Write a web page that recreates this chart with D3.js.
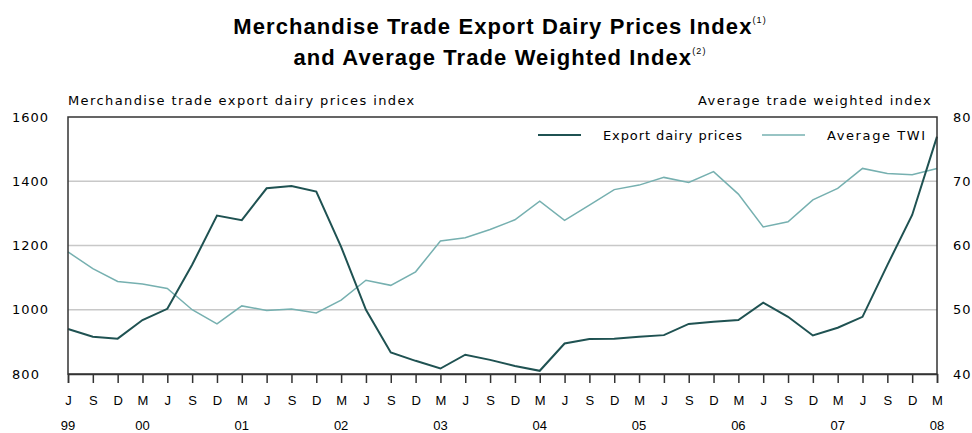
<!DOCTYPE html>
<html>
<head>
<meta charset="utf-8">
<script src="https://cdn.jsdelivr.net/npm/d3@7/dist/d3.min.js"></script>
<style>
  body { margin: 0; background: #fff; }
  text { font-family: "DejaVu Sans", sans-serif; fill: #000; }
  .title { font-family: "Liberation Sans", Arial, sans-serif; font-weight: bold; font-size: 22px; letter-spacing: 1.1px; }
  .grid line { stroke: #c8c8c8; stroke-width: 1.5px; }
</style>
</head>
<body>
<div id="chart"></div>
<script>
// quarterly, Jun 1999 .. Mar 2008
const monthLabels = ["J","S","D","M","J","S","D","M","J","S","D","M","J","S","D","M","J","S",
                     "D","M","J","S","D","M","J","S","D","M","J","S","D","M","J","S","D","M"];
const yearLabels = {0:"99", 3:"00", 7:"01", 11:"02", 15:"03", 19:"04", 23:"05", 27:"06", 31:"07", 35:"08"};
const dairyPrices = [940, 916, 910, 968, 1003, 1140, 1293, 1279, 1378, 1385, 1368, 1196,
                     1000, 867, 841, 817, 860, 844, 825, 810, 895, 909, 910, 916,
                     921, 956, 963, 968, 1022, 978, 920, 944, 978, 1139, 1295, 1539];
const avgTWI = [59.0, 56.4, 54.4, 54.0, 53.3, 50.0, 47.8, 50.6, 49.9, 50.1, 49.5, 51.5,
                54.6, 53.8, 55.9, 60.7, 61.2, 62.5, 64.0, 66.9, 63.9, 66.3, 68.7, 69.4,
                70.6, 69.8, 71.5, 68.0, 62.9, 63.7, 67.1, 68.9, 72.0, 71.2, 71.0, 72.0];
const leftTicks = [800, 1000, 1200, 1400, 1600];
const rightTicks = [40, 50, 60, 70, 80];

const W = 972, H = 433;
const m = {left: 68, right: 937, top: 117, bottom: 374};

const svg = d3.select("#chart").append("svg").attr("width", W).attr("height", H);

const x = d3.scaleLinear().domain([0, monthLabels.length - 1]).range([m.left, m.right]);
const yL = d3.scaleLinear().domain([800, 1600]).range([m.bottom, m.top]);
const yR = d3.scaleLinear().domain([40, 80]).range([m.bottom, m.top]);

// title
const title = svg.append("text").attr("class", "title").attr("text-anchor", "middle").attr("x", 500).attr("y", 34);
title.append("tspan").text("Merchandise Trade Export Dairy Prices Index");
title.append("tspan").attr("dy", -11).style("font-size", "9px").style("font-weight", "normal").text("(1)");
const title2 = svg.append("text").attr("class", "title").attr("text-anchor", "middle").attr("x", 500).attr("y", 65);
title2.append("tspan").text("and Average Trade Weighted Index");
title2.append("tspan").attr("dy", -11).style("font-size", "9px").style("font-weight", "normal").text("(2)");

// axis titles
svg.append("text").attr("x", 68).attr("y", 105).style("font-size", "13px").style("letter-spacing", "1.4px")
  .text("Merchandise trade export dairy prices index");
svg.append("text").attr("x", 932).attr("y", 105).attr("text-anchor", "end").style("font-size", "13px")
  .style("letter-spacing", "1.35px")
  .text("Average trade weighted index");

// grid
svg.append("g").attr("class", "grid").selectAll("line")
  .data(leftTicks.filter(d => d > 800 && d < 1600)).join("line")
  .attr("x1", m.left).attr("x2", m.right).attr("y1", d => yL(d)).attr("y2", d => yL(d));

// left axis labels
svg.append("g").selectAll("text").data(leftTicks).join("text")
  .attr("x", 12).attr("y", d => yL(d)).attr("dy", "0.35em")
  .attr("textLength", d => String(d).length * 9).attr("lengthAdjust", "spacing")
  .style("font-size", "13px").text(d => d);

// right axis labels
svg.append("g").selectAll("text").data(rightTicks).join("text")
  .attr("x", 953).attr("y", d => yR(d)).attr("dy", "0.35em")
  .style("font-size", "13px").style("letter-spacing", "1px").text(d => d);

// lines
const lineL = d3.line().x((d, i) => x(i)).y(d => yL(d));
const lineR = d3.line().x((d, i) => x(i)).y(d => yR(d));
svg.append("path").datum(avgTWI).attr("d", lineR)
  .attr("fill", "none").attr("stroke", "#76b0b0").attr("stroke-width", 1.5);
svg.append("path").datum(dairyPrices).attr("d", lineL)
  .attr("fill", "none").attr("stroke", "#1f5252").attr("stroke-width", 2);

// frame
svg.append("rect").attr("x", m.left).attr("y", m.top)
  .attr("width", m.right - m.left).attr("height", m.bottom - m.top)
  .attr("fill", "none").attr("stroke", "#333").attr("stroke-width", 1.5);

// x axis ticks and labels
const xAxis = d3.axisBottom(x).tickValues(d3.range(monthLabels.length))
  .tickSize(9).tickFormat(i => monthLabels[i]);
const gx = svg.append("g").attr("transform", `translate(0,${m.bottom})`).call(xAxis);
gx.select(".domain").attr("stroke", "#333").attr("stroke-width", 1.5);
gx.selectAll(".tick line").attr("stroke", "#333").attr("stroke-width", 1.5);
gx.selectAll(".tick text").attr("y", 31).attr("dy", 0)
  .style("font-family", "'Liberation Sans Narrow', 'Liberation Sans', sans-serif").style("font-size", "13px");
svg.append("g").selectAll("text").data(Object.keys(yearLabels)).join("text")
  .attr("x", d => x(+d)).attr("y", 430).attr("text-anchor", "middle")
  .style("font-family", "'Liberation Sans Narrow', 'Liberation Sans', sans-serif").style("font-size", "13px")
  .text(d => yearLabels[d]);

// legend
const legend = [
  {label: "Export dairy prices", color: "#1f5252", w: 2, x0: 538, ls: 0.9},
  {label: "Average TWI", color: "#76b0b0", w: 1.5, x0: 762, ls: 1.6}
];
const lg = svg.append("g").selectAll("g").data(legend).join("g");
lg.append("line").attr("x1", d => d.x0).attr("x2", d => d.x0 + 43)
  .attr("y1", 135).attr("y2", 135).attr("stroke", d => d.color).attr("stroke-width", d => d.w);
lg.append("text").attr("x", d => d.x0 + 65).attr("y", 139.5).style("font-size", "13px")
  .style("letter-spacing", d => d.ls + "px").text(d => d.label);
</script>
</body>
</html>
